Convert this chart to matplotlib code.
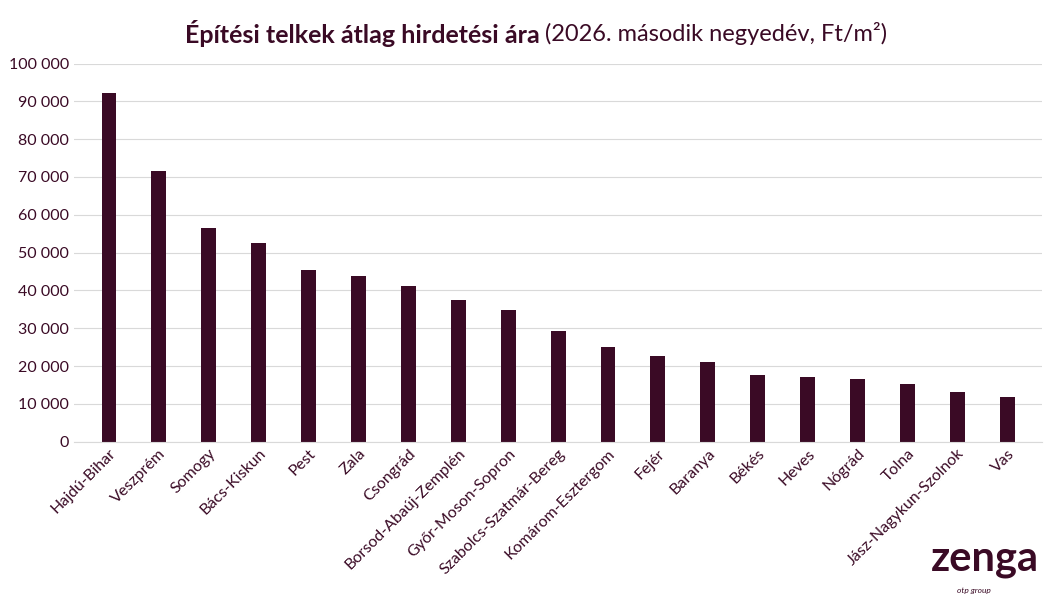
import matplotlib.pyplot as plt
import matplotlib.ticker as mticker

counties = ['Hajdú-Bihar', 'Veszprém', 'Somogy', 'Bács-Kiskun', 'Pest', 'Zala', 'Csongrád',
            'Borsod-Abaúj-Zemplén', 'Győr-Moson-Sopron', 'Szabolcs-Szatmár-Bereg',
            'Komárom-Esztergom', 'Fejér', 'Baranya', 'Békés', 'Heves', 'Nógrád', 'Tolna',
            'Jász-Nagykun-Szolnok', 'Vas']
prices = [92300, 71500, 56500, 52500, 45400, 43800, 41200, 37500, 34800, 29300,
          25100, 22700, 21100, 17700, 17200, 16600, 15300, 13200, 11900]

col = '#3a0a25'
plt.rcParams['font.family'] = ['Lato', 'DejaVu Sans']
fig = plt.figure(figsize=(10.58, 6.05), dpi=100)
ax = fig.add_axes([0.07, 0.27, 0.915, 0.625])
ax.bar(range(len(counties)), prices, width=0.3, color=col)
ax.set_xlim(-0.7, len(counties) - 0.3)
ax.set_ylim(0, 100000)
ax.yaxis.set_major_locator(mticker.MultipleLocator(10000))
ax.yaxis.set_major_formatter(mticker.FuncFormatter(lambda v, p: f'{int(v):,}'.replace(',', ' ')))
ax.grid(axis='y', color='#d9d9d9', linewidth=0.8)
ax.set_axisbelow(True)
for s in ['top', 'right', 'left']:
    ax.spines[s].set_visible(False)
ax.spines['bottom'].set_color('#d9d9d9')
ax.tick_params(length=0, labelsize=11.5, colors=col)
ax.set_xticks(range(len(counties)))
ax.set_xticklabels(counties, rotation=45, ha='right', rotation_mode='anchor')
fig.text(0.51, 0.945, 'Építési telkek átlag hirdetési ára', ha='right', va='center',
         fontsize=18, fontweight='bold', color=col)
fig.text(0.515, 0.945, '(2026. második negyedév, Ft/m²)', ha='left', va='center',
         fontsize=17, color=col)
fig.text(0.88, 0.045, 'zenga', fontsize=30, fontweight='bold', color=col, ha='left', va='bottom')
fig.text(0.905, 0.02, 'otp group', fontsize=6, style='italic', color=col)
fig.savefig('out.png')
